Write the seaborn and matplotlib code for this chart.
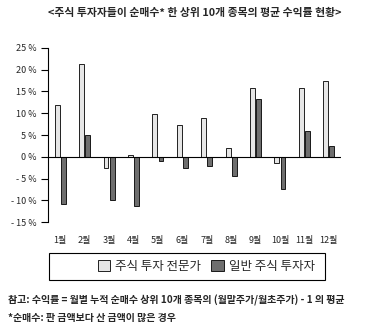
import pandas as pd
import seaborn as sns
import matplotlib.pyplot as plt
from matplotlib.patches import Rectangle

months = ['1월', '2월', '3월', '4월', '5월', '6월', '7월', '8월', '9월', '10월', '11월', '12월']
experts = [12.0, 21.4, -2.5, 0.5, 9.9, 7.3, 9.0, 2.1, 15.8, -1.4, 15.8, 17.3]
retail = [-10.8, 5.1, -9.9, -11.2, -1.0, -2.5, -2.1, -4.3, 13.3, -7.3, 6.0, 2.5]
groups = ['주식 투자 전문가', '일반 주식 투자자']
yticks = [25, 20, 15, 10, 5, 0, -5, -10, -15]
ytick_labels = ['25 %', '20 %', '15 %', '10 %', '5 %', '0 %', '- 5 %', '- 10 %', '- 15 %']

df = pd.DataFrame({
    'month': months * 2,
    'value': experts + retail,
    'group': [groups[0]] * len(months) + [groups[1]] * len(months),
})

sns.set_style('white')
plt.rcParams['font.family'] = ['Noto Sans CJK KR', 'DejaVu Sans']

fig = plt.figure(figsize=(3.82, 3.33), dpi=100)
ax = fig.add_axes([0.1257, 0.333, 0.767, 0.523])

sns.barplot(data=df, x='month', y='value', hue='group', hue_order=groups,
            palette=['#e6e6e6', '#6e6e6e'], edgecolor='black', linewidth=0.6,
            width=0.5, gap=0.2, ax=ax, legend=False)

ax.set_ylim(-15, 25)
ax.set_xlim(-0.5, 11.5)
ax.axhline(0, color='black', lw=0.8)
ax.set_yticks(yticks)
ax.set_yticklabels(ytick_labels, fontsize=6.5)
ax.set_xlabel('')
ax.set_ylabel('')
ax.tick_params(axis='x', length=0, pad=10, labelsize=6.5)
ax.tick_params(axis='y', length=5, width=0.8, direction='out', color='black', pad=3, left=True)
for s in ['top', 'right', 'bottom']:
    ax.spines[s].set_visible(False)
ax.spines['left'].set_color('black')
ax.spines['left'].set_linewidth(0.8)

fig.text(0.51, 0.962, '<주식 투자자들이 순매수* 한 상위 10개 종목의 평균 수익률 현황>',
         ha='center', va='center', fontsize=7.8, fontweight='bold')

# legend box
fig.patches.append(Rectangle((49 / 382, 1 - 280 / 333), 276 / 382, 27 / 333,
                             transform=fig.transFigure, fill=False,
                             edgecolor='black', lw=0.8))
handles = [Rectangle((0, 0), 1, 1, facecolor=c, edgecolor='black', lw=0.6)
           for c in ['#e6e6e6', '#6e6e6e']]
fig.legend(handles, groups, loc='center', bbox_to_anchor=(0.54, 1 - 266.5 / 333),
           ncol=2, frameon=False, fontsize=9, handlelength=1.0, handleheight=1.0,
           handletextpad=0.4, columnspacing=0.8)

fig.text(0.02, 1 - 300 / 333,
         '참고: 수익률 = 월별 누적 순매수 상위 10개 종목의 (월말주가/월초주가) - 1 의 평균',
         ha='left', va='center', fontsize=7.2, fontweight='bold')
fig.text(0.02, 1 - 318 / 333, '*순매수: 판 금액보다 산 금액이 많은 경우',
         ha='left', va='center', fontsize=7.2, fontweight='bold')

fig.savefig('out.png', dpi=100)
